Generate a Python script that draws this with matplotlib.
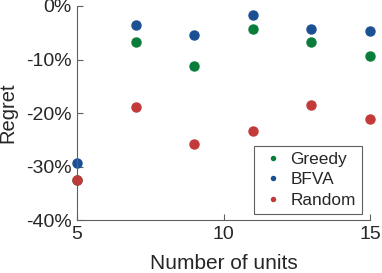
import numpy as np
import matplotlib.pyplot as plt

plt.rcParams['font.family'] = ['Liberation Sans', 'DejaVu Sans']

units = [5, 7, 9, 11, 13, 15]
greedy = [-32.5, -6.7, -11.3, -4.3, -6.7, -9.3]
bfva = [-29.3, -3.6, -5.4, -1.75, -4.3, -4.7]
rand = [-32.5, -18.8, -25.8, -23.3, -18.5, -21.2]

c_green = '#0b7d3b'
c_blue = '#1b5193'
c_red = '#c23a3a'

fig = plt.figure(figsize=(3.82, 2.73), dpi=100)
ax = fig.add_axes([77/382, 1 - 220/273, (370-77)/382, (220-6)/273])

ax.plot(units, greedy, 'o', color=c_green, ms=6.5, label='Greedy', clip_on=False)
ax.plot(units, bfva, 'o', color=c_blue, ms=6.5, label='BFVA', clip_on=False)
ax.plot(units, rand, 'o', color=c_red, ms=6.5, label='Random', clip_on=False)

ax.set_xlim(5, 15)
ax.set_ylim(-40, 0)
ax.set_xticks([5, 10, 15])
ax.set_yticks([-40, -30, -20, -10, 0])
ax.set_yticklabels(['-40%', '-30%', '-20%', '-10%', '0%'])

for s in ['top', 'right']:
    ax.spines[s].set_visible(False)
for s in ['left', 'bottom']:
    ax.spines[s].set_color('#606060')
    ax.spines[s].set_linewidth(0.8)
ax.tick_params(direction='in', length=4, color='#606060', labelsize=14, labelcolor='#262626', pad=4)

ax.set_xlabel('Number of units', fontsize=15, color='#262626', labelpad=8)
ax.set_ylabel('Regret', fontsize=14.5, color='#262626')
ax.yaxis.set_label_coords(-0.203, 0.5)

leg = ax.legend(loc='lower right', bbox_to_anchor=(1.0 - 8/293, 6/214), fontsize=12.4, markerscale=0.45,
                handletextpad=0.2, handlelength=1.6, borderpad=0.35, labelspacing=0.32,
                fancybox=False, framealpha=1, edgecolor='#606060', borderaxespad=0)
leg.get_frame().set_linewidth(0.8)
for t in leg.get_texts():
    t.set_color('#262626')

fig.savefig('out.png', dpi=100)
